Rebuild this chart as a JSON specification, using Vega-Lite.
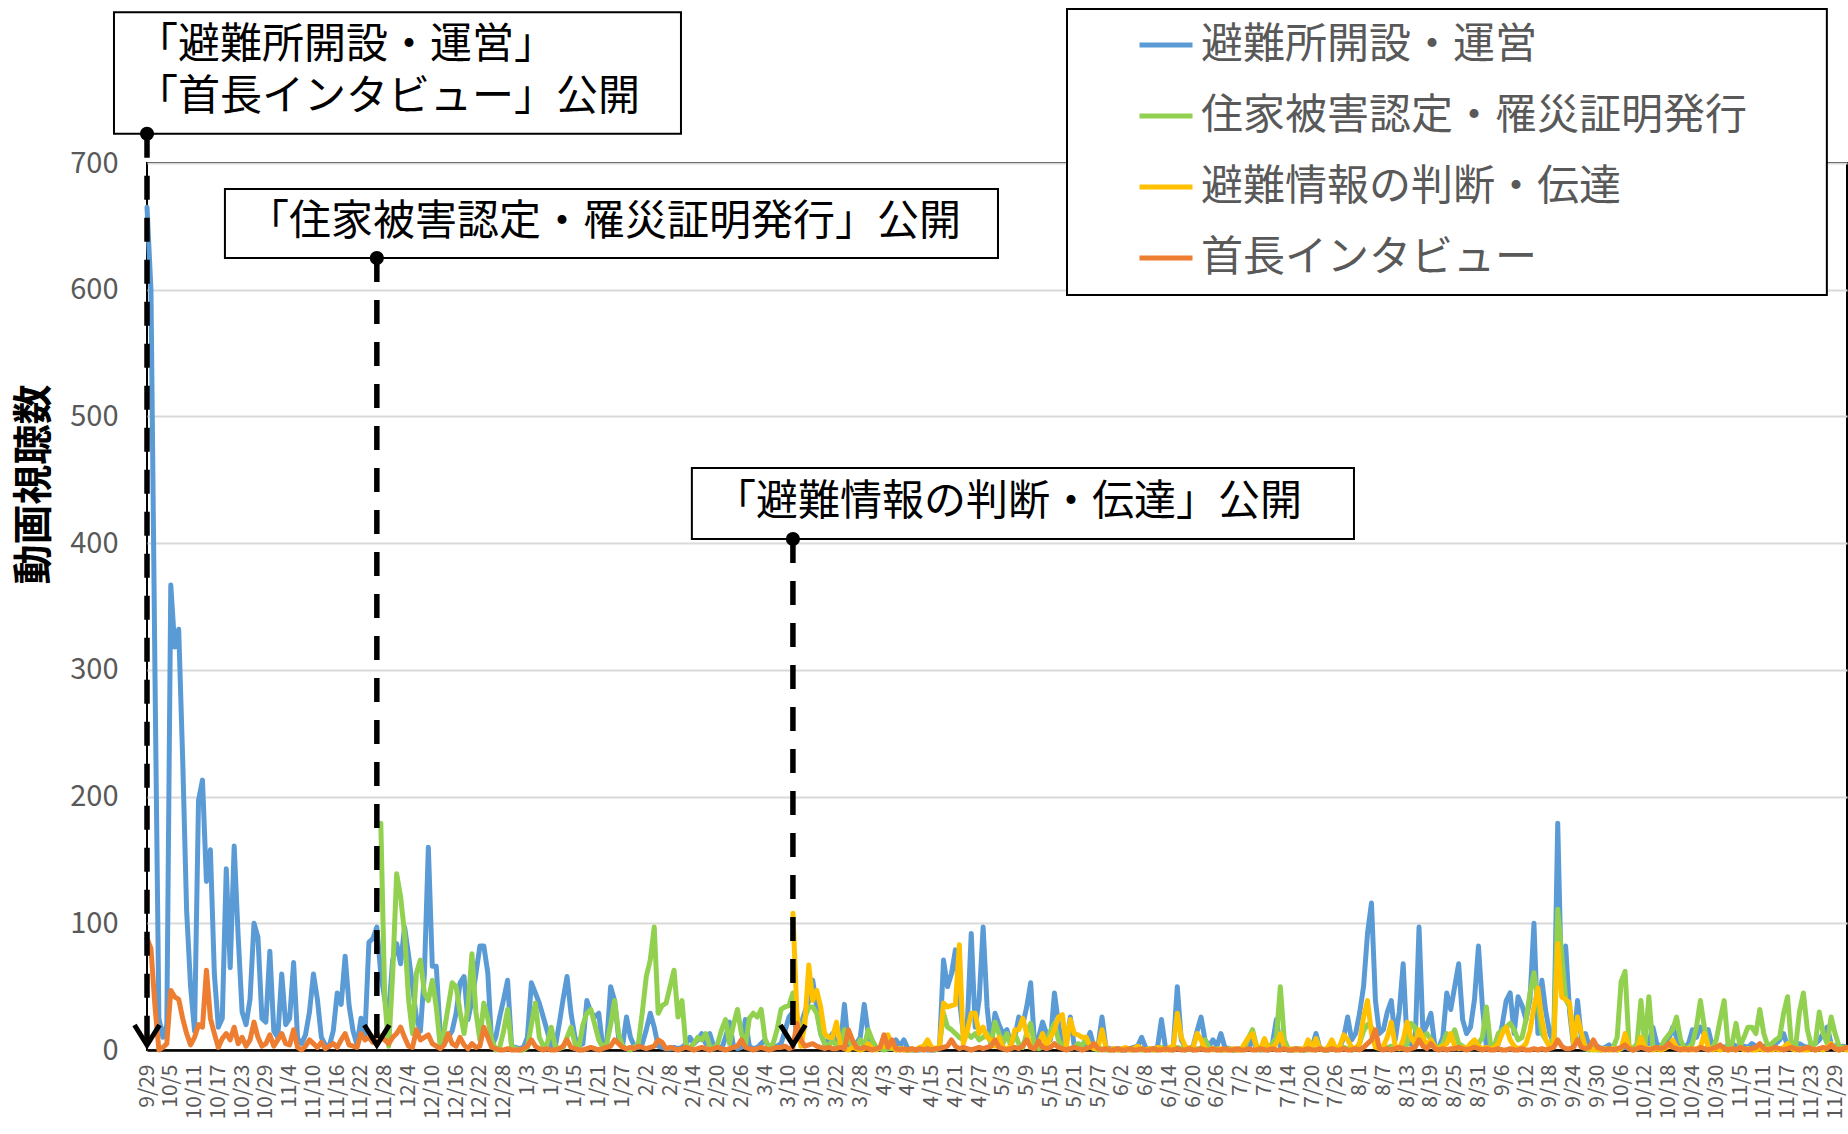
{
"$schema":"https://vega.github.io/schema/vega-lite/v6.json",
"width":1700,"height":887,
"autosize":{"type":"none"},
"padding":{"left":147,"top":163,"right":1,"bottom":84},
"background":"white",
"config":{"font":"Noto Sans CJK JP","view":{"stroke":"#000","strokeWidth":2},"axisX":{"labelOverlap":false,"labelFlush":false,"labelBound":false,"tickCount":100},"axis":{"labelOverlap":false}},
"datasets":{"views":[
{"d":"2022/9/29","a":665,"e":88},{"d":"2022/9/30","a":600,"e":80},
{"d":"2022/10/1","a":300,"e":35},{"d":"2022/10/2","a":25,"e":0},{"d":"2022/10/3","a":10,"e":2},{"d":"2022/10/4","a":20,"e":5},{"d":"2022/10/5","a":367,"e":47},{"d":"2022/10/6","a":318,"e":42},{"d":"2022/10/7","a":332,"e":40},{"d":"2022/10/8","a":230,"e":25},{"d":"2022/10/9","a":110,"e":13},{"d":"2022/10/10","a":50,"e":4},
{"d":"2022/10/11","a":15,"e":10},{"d":"2022/10/12","a":197,"e":20},{"d":"2022/10/13","a":213,"e":18},{"d":"2022/10/14","a":133,"e":63},{"d":"2022/10/15","a":158,"e":25},{"d":"2022/10/16","a":60,"e":13},{"d":"2022/10/17","a":18,"e":2},{"d":"2022/10/18","a":25,"e":9},{"d":"2022/10/19","a":143,"e":13},{"d":"2022/10/20","a":65,"e":8},
{"d":"2022/10/21","a":161,"e":18},{"d":"2022/10/22","a":90,"e":5},{"d":"2022/10/23","a":30,"e":10},{"d":"2022/10/24","a":20,"e":3},{"d":"2022/10/25","a":40,"e":8},{"d":"2022/10/26","a":100,"e":22},{"d":"2022/10/27","a":89,"e":10},{"d":"2022/10/28","a":25,"e":3},{"d":"2022/10/29","a":22,"e":5},{"d":"2022/10/30","a":78,"e":12},{"d":"2022/10/31","a":15,"e":3},
{"d":"2022/11/1","a":10,"e":8},{"d":"2022/11/2","a":60,"e":13},{"d":"2022/11/3","a":20,"e":5},{"d":"2022/11/4","a":25,"e":4},{"d":"2022/11/5","a":69,"e":16},{"d":"2022/11/6","a":9,"e":2},{"d":"2022/11/7","a":5,"e":0},{"d":"2022/11/8","a":12,"e":3},{"d":"2022/11/9","a":30,"e":8},{"d":"2022/11/10","a":60,"e":5},
{"d":"2022/11/11","a":40,"e":2},{"d":"2022/11/12","a":10,"e":6},{"d":"2022/11/13","a":4,"e":1},{"d":"2022/11/14","a":3,"e":3},{"d":"2022/11/15","a":15,"e":5},{"d":"2022/11/16","a":45,"e":2},{"d":"2022/11/17","a":36,"e":8},{"d":"2022/11/18","a":74,"e":13},{"d":"2022/11/19","a":35,"e":4},{"d":"2022/11/20","a":15,"e":3},
{"d":"2022/11/21","a":4,"e":2},{"d":"2022/11/22","a":25,"e":13},{"d":"2022/11/23","a":12,"e":8},{"d":"2022/11/24","a":85,"e":10},{"d":"2022/11/25","a":88,"e":6},{"d":"2022/11/26","a":97,"e":13},{"d":"2022/11/27","a":60,"b":179,"e":10},{"d":"2022/11/28","a":40,"b":40,"e":8},{"d":"2022/11/29","a":30,"b":3,"e":5},{"d":"2022/11/30","a":71,"b":60,"e":10},
{"d":"2022/12/1","a":84,"b":139,"e":13},{"d":"2022/12/2","a":68,"b":121,"e":18},{"d":"2022/12/3","a":97,"b":92,"e":10},{"d":"2022/12/4","a":75,"b":40,"e":3},{"d":"2022/12/5","a":50,"b":13,"e":2},{"d":"2022/12/6","a":25,"b":61,"e":16},{"d":"2022/12/7","a":15,"b":71,"e":8},{"d":"2022/12/8","a":60,"b":45,"e":10},{"d":"2022/12/9","a":160,"b":39,"e":12},{"d":"2022/12/10","a":66,"b":55,"e":5},
{"d":"2022/12/11","a":66,"b":34,"e":3},{"d":"2022/12/12","a":13,"b":3,"e":1},{"d":"2022/12/13","a":5,"b":15,"e":4},{"d":"2022/12/14","a":10,"b":34,"e":13},{"d":"2022/12/15","a":15,"b":53,"e":5},{"d":"2022/12/16","a":29,"b":50,"e":3},{"d":"2022/12/17","a":53,"b":30,"e":10},{"d":"2022/12/18","a":58,"b":13,"e":4},{"d":"2022/12/19","a":24,"b":34,"e":1},{"d":"2022/12/20","a":39,"b":76,"e":5},
{"d":"2022/12/21","a":60,"b":30,"e":2},{"d":"2022/12/22","a":82,"b":8,"e":3},{"d":"2022/12/23","a":82,"b":37,"e":18},{"d":"2022/12/24","a":61,"b":25,"e":10},{"d":"2022/12/25","a":3,"b":8,"e":2},{"d":"2022/12/26","a":10,"b":0,"e":1},{"d":"2022/12/27","a":26,"b":2,"e":0},{"d":"2022/12/28","a":40,"b":15,"e":0},{"d":"2022/12/29","a":55,"b":32,"e":1},{"d":"2022/12/30","a":3,"b":3,"e":0},{"d":"2022/12/31","a":2,"b":1,"e":0},
{"d":"2023/1/1","a":1,"b":0,"e":0},{"d":"2023/1/2","a":2,"b":0,"e":1},{"d":"2023/1/3","a":10,"b":2,"e":3},{"d":"2023/1/4","a":53,"b":20,"e":8},{"d":"2023/1/5","a":45,"b":37,"e":3},{"d":"2023/1/6","a":37,"b":10,"e":1},{"d":"2023/1/7","a":26,"b":3,"e":0},{"d":"2023/1/8","a":15,"b":5,"e":1},{"d":"2023/1/9","a":3,"b":18,"e":0},{"d":"2023/1/10","a":2,"b":3,"e":0},
{"d":"2023/1/11","a":20,"b":1,"e":1},{"d":"2023/1/12","a":40,"b":2,"e":3},{"d":"2023/1/13","a":58,"b":10,"e":8},{"d":"2023/1/14","a":29,"b":18,"e":2},{"d":"2023/1/15","a":10,"b":5,"e":1},{"d":"2023/1/16","a":3,"b":2,"e":0},{"d":"2023/1/17","a":5,"b":20,"e":0},{"d":"2023/1/18","a":39,"b":29,"e":1},{"d":"2023/1/19","a":30,"b":32,"e":2},{"d":"2023/1/20","a":26,"b":20,"e":1},
{"d":"2023/1/21","a":29,"b":8,"e":0},{"d":"2023/1/22","a":3,"b":2,"e":1},{"d":"2023/1/23","a":5,"b":5,"e":2},{"d":"2023/1/24","a":50,"b":20,"e":3},{"d":"2023/1/25","a":39,"b":39,"e":8},{"d":"2023/1/26","a":10,"b":13,"e":5},{"d":"2023/1/27","a":3,"b":3,"e":2},{"d":"2023/1/28","a":26,"b":1,"e":1},{"d":"2023/1/29","a":10,"b":0,"e":2},{"d":"2023/1/30","a":3,"b":2,"e":1},{"d":"2023/1/31","a":2,"b":5,"e":3},
{"d":"2023/2/1","a":5,"b":30,"e":2},{"d":"2023/2/2","a":16,"b":58,"e":1},{"d":"2023/2/3","a":29,"b":71,"e":2},{"d":"2023/2/4","a":18,"b":97,"e":3},{"d":"2023/2/5","a":3,"b":29,"e":8},{"d":"2023/2/6","a":2,"b":35,"e":6},{"d":"2023/2/7","a":1,"b":37,"e":1},{"d":"2023/2/8","a":1,"b":50,"e":2},{"d":"2023/2/9","a":2,"b":63,"e":1},{"d":"2023/2/10","a":1,"b":26,"e":0},
{"d":"2023/2/11","a":2,"b":39,"e":1},{"d":"2023/2/12","a":5,"b":3,"e":2},{"d":"2023/2/13","a":10,"b":2,"e":1},{"d":"2023/2/14","a":5,"b":5,"e":0},{"d":"2023/2/15","a":8,"b":10,"e":1},{"d":"2023/2/16","a":13,"b":8,"e":2},{"d":"2023/2/17","a":5,"b":13,"e":1},{"d":"2023/2/18","a":13,"b":3,"e":0},{"d":"2023/2/19","a":3,"b":1,"e":1},{"d":"2023/2/20","a":2,"b":5,"e":2},
{"d":"2023/2/21","a":1,"b":16,"e":1},{"d":"2023/2/22","a":10,"b":24,"e":0},{"d":"2023/2/23","a":22,"b":5,"e":1},{"d":"2023/2/24","a":3,"b":20,"e":2},{"d":"2023/2/25","a":1,"b":32,"e":3},{"d":"2023/2/26","a":2,"b":13,"e":8},{"d":"2023/2/27","a":24,"b":3,"e":2},{"d":"2023/2/28","a":3,"b":25,"e":1},
{"d":"2023/3/1","a":1,"b":29,"e":0},{"d":"2023/3/2","a":2,"b":26,"e":1},{"d":"2023/3/3","a":5,"b":32,"e":2},{"d":"2023/3/4","a":8,"b":8,"e":1},{"d":"2023/3/5","a":1,"b":2,"e":0},{"d":"2023/3/6","a":2,"b":5,"e":1},{"d":"2023/3/7","a":3,"b":16,"e":2},{"d":"2023/3/8","a":5,"b":32,"e":2},{"d":"2023/3/9","a":15,"b":34,"e":3},{"d":"2023/3/10","a":26,"b":35,"e":1},
{"d":"2023/3/11","a":30,"b":45,"c":108,"e":2},{"d":"2023/3/12","a":13,"b":13,"c":30,"e":21},{"d":"2023/3/13","a":20,"b":10,"c":3,"e":8},{"d":"2023/3/14","a":30,"b":25,"c":20,"e":3},{"d":"2023/3/15","a":39,"b":34,"c":67,"e":4},{"d":"2023/3/16","a":55,"b":34,"c":39,"e":5},{"d":"2023/3/17","a":34,"b":29,"c":47,"e":3},{"d":"2023/3/18","a":13,"b":13,"c":34,"e":2},{"d":"2023/3/19","a":5,"b":5,"c":13,"e":1},{"d":"2023/3/20","a":8,"b":3,"c":10,"e":2},
{"d":"2023/3/21","a":13,"b":8,"c":10,"e":1},{"d":"2023/3/22","a":5,"b":3,"c":22,"e":1},{"d":"2023/3/23","a":3,"b":2,"c":3,"e":2},{"d":"2023/3/24","a":36,"b":16,"c":1,"e":1},{"d":"2023/3/25","a":3,"b":8,"c":0,"e":16},{"d":"2023/3/26","a":2,"b":3,"c":2,"e":8},{"d":"2023/3/27","a":5,"b":2,"c":1,"e":2},{"d":"2023/3/28","a":10,"b":8,"c":0,"e":1},{"d":"2023/3/29","a":36,"b":3,"c":1,"e":2},{"d":"2023/3/30","a":13,"b":16,"c":5,"e":1},{"d":"2023/3/31","a":2,"b":8,"c":1,"e":0},
{"d":"2023/4/1","a":1,"b":2,"c":0,"e":1},{"d":"2023/4/2","a":1,"b":1,"c":2,"e":2},{"d":"2023/4/3","a":2,"b":0,"c":3,"e":12},{"d":"2023/4/4","a":1,"b":1,"c":12,"e":2},{"d":"2023/4/5","a":3,"b":2,"c":2,"e":8},{"d":"2023/4/6","a":8,"b":0,"c":0,"e":1},{"d":"2023/4/7","a":3,"b":1,"c":1,"e":0},{"d":"2023/4/8","a":8,"b":0,"c":0,"e":1},{"d":"2023/4/9","a":1,"b":0,"c":0,"e":0},{"d":"2023/4/10","a":0,"b":0,"c":1,"e":1},
{"d":"2023/4/11","a":0,"b":0,"c":0,"e":0},{"d":"2023/4/12","a":0,"b":1,"c":2,"e":1},{"d":"2023/4/13","a":1,"b":0,"c":3,"e":0},{"d":"2023/4/14","a":0,"b":2,"c":8,"e":1},{"d":"2023/4/15","a":0,"b":1,"c":2,"e":0},{"d":"2023/4/16","a":0,"b":0,"c":1,"e":1},{"d":"2023/4/17","a":2,"b":3,"c":3,"e":1},{"d":"2023/4/18","a":71,"b":29,"c":37,"e":2},{"d":"2023/4/19","a":50,"b":18,"c":34,"e":3},{"d":"2023/4/20","a":60,"b":16,"c":35,"e":8},
{"d":"2023/4/21","a":79,"b":13,"c":36,"e":3},{"d":"2023/4/22","a":40,"b":10,"c":83,"e":1},{"d":"2023/4/23","a":13,"b":8,"c":5,"e":2},{"d":"2023/4/24","a":20,"b":13,"c":15,"e":1},{"d":"2023/4/25","a":92,"b":10,"c":29,"e":0},{"d":"2023/4/26","a":18,"b":13,"c":29,"e":1},{"d":"2023/4/27","a":40,"b":8,"c":13,"e":2},{"d":"2023/4/28","a":97,"b":10,"c":18,"e":1},{"d":"2023/4/29","a":34,"b":13,"c":10,"e":2},{"d":"2023/4/30","a":3,"b":5,"c":8,"e":3},
{"d":"2023/5/1","a":29,"b":22,"c":3,"e":8},{"d":"2023/5/2","a":20,"b":13,"c":10,"e":2},{"d":"2023/5/3","a":13,"b":5,"c":2,"e":1},{"d":"2023/5/4","a":16,"b":13,"c":1,"e":0},{"d":"2023/5/5","a":5,"b":3,"c":3,"e":1},{"d":"2023/5/6","a":10,"b":13,"c":16,"e":2},{"d":"2023/5/7","a":26,"b":5,"c":16,"e":1},{"d":"2023/5/8","a":20,"b":2,"c":25,"e":3},{"d":"2023/5/9","a":34,"b":13,"c":13,"e":8},{"d":"2023/5/10","a":53,"b":21,"c":2,"e":2},
{"d":"2023/5/11","a":3,"b":3,"c":1,"e":1},{"d":"2023/5/12","a":10,"b":1,"c":5,"e":7},{"d":"2023/5/13","a":22,"b":2,"c":13,"e":2},{"d":"2023/5/14","a":13,"b":5,"c":3,"e":1},{"d":"2023/5/15","a":8,"b":15,"c":10,"e":2},{"d":"2023/5/16","a":45,"b":21,"c":16,"e":5},{"d":"2023/5/17","a":21,"b":8,"c":26,"e":2},{"d":"2023/5/18","a":3,"b":3,"c":28,"e":1},{"d":"2023/5/19","a":5,"b":2,"c":3,"e":0},{"d":"2023/5/20","a":26,"b":1,"c":24,"e":1},
{"d":"2023/5/21","a":3,"b":2,"c":13,"e":2},{"d":"2023/5/22","a":1,"b":5,"c":12,"e":1},{"d":"2023/5/23","a":2,"b":3,"c":10,"e":0},{"d":"2023/5/24","a":5,"b":10,"c":10,"e":1},{"d":"2023/5/25","a":14,"b":2,"c":3,"e":2},{"d":"2023/5/26","a":2,"b":1,"c":1,"e":5},{"d":"2023/5/27","a":3,"b":0,"c":2,"e":1},{"d":"2023/5/28","a":26,"b":1,"c":16,"e":0},{"d":"2023/5/29","a":2,"b":0,"c":2,"e":1},{"d":"2023/5/30","a":1,"b":0,"c":0,"e":0},{"d":"2023/5/31","a":0,"b":1,"c":1,"e":0},
{"d":"2023/6/1","a":1,"b":0,"c":0,"e":1},{"d":"2023/6/2","a":0,"b":0,"c":1,"e":0},{"d":"2023/6/3","a":0,"b":1,"c":2,"e":0},{"d":"2023/6/4","a":1,"b":0,"c":0,"e":1},{"d":"2023/6/5","a":2,"b":0,"c":1,"e":0},{"d":"2023/6/6","a":3,"b":1,"c":3,"e":0},{"d":"2023/6/7","a":10,"b":0,"c":1,"e":1},{"d":"2023/6/8","a":2,"b":0,"c":0,"e":0},{"d":"2023/6/9","a":0,"b":1,"c":1,"e":0},{"d":"2023/6/10","a":1,"b":0,"c":0,"e":1},
{"d":"2023/6/11","a":2,"b":0,"c":2,"e":0},{"d":"2023/6/12","a":24,"b":2,"c":1,"e":0},{"d":"2023/6/13","a":2,"b":0,"c":0,"e":1},{"d":"2023/6/14","a":1,"b":1,"c":2,"e":0},{"d":"2023/6/15","a":3,"b":0,"c":3,"e":0},{"d":"2023/6/16","a":50,"b":2,"c":29,"e":1},{"d":"2023/6/17","a":8,"b":1,"c":10,"e":0},{"d":"2023/6/18","a":2,"b":0,"c":3,"e":0},{"d":"2023/6/19","a":1,"b":1,"c":1,"e":1},{"d":"2023/6/20","a":3,"b":0,"c":2,"e":0},
{"d":"2023/6/21","a":15,"b":1,"c":13,"e":0},{"d":"2023/6/22","a":26,"b":1,"c":8,"e":1},{"d":"2023/6/23","a":8,"b":8,"c":1,"e":0},{"d":"2023/6/24","a":3,"b":2,"c":0,"e":0},{"d":"2023/6/25","a":8,"b":0,"c":1,"e":1},{"d":"2023/6/26","a":3,"b":1,"c":0,"e":0},{"d":"2023/6/27","a":13,"b":0,"c":1,"e":0},{"d":"2023/6/28","a":2,"b":0,"c":0,"e":1},{"d":"2023/6/29","a":1,"b":1,"c":0,"e":0},{"d":"2023/6/30","a":0,"b":0,"c":1,"e":0},
{"d":"2023/7/1","a":0,"b":0,"c":0,"e":1},{"d":"2023/7/2","a":1,"b":1,"c":0,"e":0},{"d":"2023/7/3","a":2,"b":2,"c":5,"e":0},{"d":"2023/7/4","a":2,"b":10,"c":10,"e":1},{"d":"2023/7/5","a":8,"b":16,"c":13,"e":0},{"d":"2023/7/6","a":1,"b":3,"c":2,"e":0},{"d":"2023/7/7","a":0,"b":0,"c":1,"e":1},{"d":"2023/7/8","a":1,"b":1,"c":9,"e":0},{"d":"2023/7/9","a":0,"b":2,"c":1,"e":0},{"d":"2023/7/10","a":5,"b":5,"c":2,"e":1},
{"d":"2023/7/11","a":24,"b":10,"c":5,"e":0},{"d":"2023/7/12","a":3,"b":50,"c":13,"e":0},{"d":"2023/7/13","a":1,"b":8,"c":2,"e":1},{"d":"2023/7/14","a":0,"b":1,"c":0,"e":0},{"d":"2023/7/15","a":0,"b":0,"c":1,"e":0},{"d":"2023/7/16","a":1,"b":0,"c":0,"e":1},{"d":"2023/7/17","a":0,"b":1,"c":1,"e":0},{"d":"2023/7/18","a":0,"b":0,"c":0,"e":0},{"d":"2023/7/19","a":1,"b":0,"c":8,"e":1},{"d":"2023/7/20","a":2,"b":1,"c":1,"e":0},
{"d":"2023/7/21","a":13,"b":0,"c":9,"e":0},{"d":"2023/7/22","a":1,"b":2,"c":1,"e":1},{"d":"2023/7/23","a":0,"b":0,"c":0,"e":0},{"d":"2023/7/24","a":0,"b":0,"c":2,"e":0},{"d":"2023/7/25","a":2,"b":1,"c":8,"e":1},{"d":"2023/7/26","a":1,"b":0,"c":1,"e":0},{"d":"2023/7/27","a":2,"b":1,"c":3,"e":0},{"d":"2023/7/28","a":10,"b":2,"c":12,"e":1},{"d":"2023/7/29","a":26,"b":1,"c":8,"e":0},{"d":"2023/7/30","a":8,"b":0,"c":2,"e":0},{"d":"2023/7/31","a":13,"b":1,"c":1,"e":1},
{"d":"2023/8/1","a":29,"b":5,"c":5,"e":0},{"d":"2023/8/2","a":50,"b":15,"c":26,"e":2},{"d":"2023/8/3","a":92,"b":20,"c":39,"e":5},{"d":"2023/8/4","a":116,"b":18,"c":13,"e":8},{"d":"2023/8/5","a":39,"b":5,"c":2,"e":16},{"d":"2023/8/6","a":13,"b":2,"c":1,"e":1},{"d":"2023/8/7","a":16,"b":1,"c":3,"e":0},{"d":"2023/8/8","a":30,"b":2,"c":10,"e":1},{"d":"2023/8/9","a":39,"b":3,"c":22,"e":0},{"d":"2023/8/10","a":8,"b":1,"c":3,"e":1},
{"d":"2023/8/11","a":30,"b":2,"c":1,"e":2},{"d":"2023/8/12","a":68,"b":1,"c":8,"e":1},{"d":"2023/8/13","a":5,"b":5,"c":22,"e":0},{"d":"2023/8/14","a":5,"b":21,"c":10,"e":1},{"d":"2023/8/15","a":3,"b":18,"c":5,"e":2},{"d":"2023/8/16","a":97,"b":8,"c":16,"e":8},{"d":"2023/8/17","a":13,"b":10,"c":10,"e":3},{"d":"2023/8/18","a":20,"b":13,"c":3,"e":1},{"d":"2023/8/19","a":29,"b":8,"c":8,"e":5},{"d":"2023/8/20","a":3,"b":3,"c":2,"e":1},
{"d":"2023/8/21","a":2,"b":2,"c":1,"e":0},{"d":"2023/8/22","a":10,"b":5,"c":3,"e":1},{"d":"2023/8/23","a":45,"b":13,"c":5,"e":0},{"d":"2023/8/24","a":32,"b":8,"c":13,"e":1},{"d":"2023/8/25","a":50,"b":16,"c":3,"e":1},{"d":"2023/8/26","a":68,"b":5,"c":1,"e":2},{"d":"2023/8/27","a":24,"b":3,"c":2,"e":1},{"d":"2023/8/28","a":13,"b":1,"c":1,"e":0},{"d":"2023/8/29","a":18,"b":2,"c":5,"e":1},{"d":"2023/8/30","a":40,"b":3,"c":8,"e":2},{"d":"2023/8/31","a":82,"b":5,"c":3,"e":1},
{"d":"2023/9/1","a":34,"b":10,"c":1,"e":0},{"d":"2023/9/2","a":3,"b":34,"c":2,"e":1},{"d":"2023/9/3","a":1,"b":5,"c":1,"e":0},{"d":"2023/9/4","a":2,"b":3,"c":2,"e":0},{"d":"2023/9/5","a":5,"b":13,"c":5,"e":1},{"d":"2023/9/6","a":20,"b":16,"c":13,"e":0},{"d":"2023/9/7","a":39,"b":18,"c":18,"e":0},{"d":"2023/9/8","a":45,"b":21,"c":8,"e":1},{"d":"2023/9/9","a":13,"b":16,"c":3,"e":0},{"d":"2023/9/10","a":42,"b":8,"c":1,"e":0},
{"d":"2023/9/11","a":35,"b":10,"c":2,"e":1},{"d":"2023/9/12","a":24,"b":24,"c":5,"e":0},{"d":"2023/9/13","a":40,"b":45,"c":15,"e":0},{"d":"2023/9/14","a":100,"b":61,"c":34,"e":1},{"d":"2023/9/15","a":13,"b":39,"c":49,"e":0},{"d":"2023/9/16","a":55,"b":13,"c":24,"e":1},{"d":"2023/9/17","a":30,"b":8,"c":8,"e":0},{"d":"2023/9/18","a":13,"b":3,"c":2,"e":1},{"d":"2023/9/19","a":5,"b":10,"c":5,"e":2},{"d":"2023/9/20","a":179,"b":111,"c":84,"e":8},
{"d":"2023/9/21","a":45,"b":76,"c":42,"e":3},{"d":"2023/9/22","a":82,"b":40,"c":40,"e":1},{"d":"2023/9/23","a":30,"b":34,"c":37,"e":1},{"d":"2023/9/24","a":3,"b":13,"c":5,"e":2},{"d":"2023/9/25","a":39,"b":8,"c":26,"e":8},{"d":"2023/9/26","a":8,"b":3,"c":13,"e":2},{"d":"2023/9/27","a":13,"b":1,"c":2,"e":1},{"d":"2023/9/28","a":2,"b":0,"c":1,"e":2},{"d":"2023/9/29","a":1,"b":1,"c":0,"e":8},{"d":"2023/9/30","a":3,"b":0,"c":1,"e":2},
{"d":"2023/10/1","a":1,"b":0,"c":0,"e":1},{"d":"2023/10/2","a":2,"b":1,"c":1,"e":0},{"d":"2023/10/3","a":4,"b":0,"c":0,"e":1},{"d":"2023/10/4","a":1,"b":2,"c":1,"e":0},{"d":"2023/10/5","a":0,"b":10,"c":0,"e":1},{"d":"2023/10/6","a":1,"b":54,"c":1,"e":2},{"d":"2023/10/7","a":2,"b":62,"c":13,"e":4},{"d":"2023/10/8","a":1,"b":3,"c":2,"e":1},{"d":"2023/10/9","a":0,"b":1,"c":0,"e":0},{"d":"2023/10/10","a":1,"b":5,"c":1,"e":1},
{"d":"2023/10/11","a":2,"b":39,"c":10,"e":2},{"d":"2023/10/12","a":3,"b":3,"c":2,"e":1},{"d":"2023/10/13","a":5,"b":42,"c":1,"e":0},{"d":"2023/10/14","a":18,"b":3,"c":0,"e":1},{"d":"2023/10/15","a":5,"b":1,"c":1,"e":2},{"d":"2023/10/16","a":2,"b":2,"c":0,"e":1},{"d":"2023/10/17","a":3,"b":8,"c":1,"e":2},{"d":"2023/10/18","a":8,"b":12,"c":3,"e":5},{"d":"2023/10/19","a":18,"b":16,"c":8,"e":2},{"d":"2023/10/20","a":10,"b":26,"c":2,"e":1},
{"d":"2023/10/21","a":3,"b":8,"c":1,"e":0},{"d":"2023/10/22","a":2,"b":1,"c":0,"e":1},{"d":"2023/10/23","a":5,"b":2,"c":1,"e":0},{"d":"2023/10/24","a":16,"b":5,"c":0,"e":1},{"d":"2023/10/25","a":10,"b":18,"c":1,"e":0},{"d":"2023/10/26","a":18,"b":39,"c":2,"e":2},{"d":"2023/10/27","a":12,"b":18,"c":13,"e":1},{"d":"2023/10/28","a":16,"b":3,"c":2,"e":0},{"d":"2023/10/29","a":3,"b":1,"c":0,"e":1},{"d":"2023/10/30","a":2,"b":8,"c":1,"e":2},{"d":"2023/10/31","a":3,"b":24,"c":0,"e":4},
{"d":"2023/11/1","a":2,"b":39,"c":1,"e":1},{"d":"2023/11/2","a":3,"b":3,"c":0,"e":0},{"d":"2023/11/3","a":5,"b":5,"c":1,"e":1},{"d":"2023/11/4","a":3,"b":21,"c":0,"e":0},{"d":"2023/11/5","a":2,"b":3,"c":2,"e":2},{"d":"2023/11/6","a":3,"b":10,"c":0,"e":1},{"d":"2023/11/7","a":2,"b":18,"c":1,"e":0},{"d":"2023/11/8","a":5,"b":18,"c":0,"e":1},{"d":"2023/11/9","a":3,"b":13,"c":0,"e":2},{"d":"2023/11/10","a":2,"b":32,"c":1,"e":5},
{"d":"2023/11/11","a":3,"b":13,"c":0,"e":1},{"d":"2023/11/12","a":2,"b":3,"c":1,"e":0},{"d":"2023/11/13","a":3,"b":5,"c":0,"e":1},{"d":"2023/11/14","a":5,"b":8,"c":1,"e":2},{"d":"2023/11/15","a":8,"b":10,"c":0,"e":1},{"d":"2023/11/16","a":13,"b":29,"c":2,"e":0},{"d":"2023/11/17","a":3,"b":42,"c":5,"e":1},{"d":"2023/11/18","a":2,"b":3,"c":1,"e":2},{"d":"2023/11/19","a":3,"b":2,"c":0,"e":1},{"d":"2023/11/20","a":5,"b":30,"c":1,"e":0},
{"d":"2023/11/21","a":3,"b":45,"c":0,"e":1},{"d":"2023/11/22","a":2,"b":16,"c":0,"e":2},{"d":"2023/11/23","a":3,"b":3,"c":1,"e":1},{"d":"2023/11/24","a":5,"b":5,"c":0,"e":0},{"d":"2023/11/25","a":8,"b":30,"c":1,"e":1},{"d":"2023/11/26","a":13,"b":13,"c":0,"e":2},{"d":"2023/11/27","a":18,"b":5,"c":2,"e":1},{"d":"2023/11/28","a":5,"b":26,"c":5,"e":4},{"d":"2023/11/29","a":3,"b":13,"c":1,"e":1},{"d":"2023/11/30","a":2,"b":3,"c":0,"e":0},
{"d":"2023/12/1","a":3,"b":2,"c":1,"e":1},{"d":"2023/12/2","a":2,"b":2,"c":0,"e":2}
]},
"layer":[
{
"data":{"name":"views"},
"transform":[
{"fold":["a","b","c","e"],"as":["k","v"]},
{"lookup":"k","from":{"data":{"values":[{"k":"a","s":"避難所開設・運営"},{"k":"b","s":"住家被害認定・罹災証明発行"},{"k":"c","s":"避難情報の判断・伝達"},{"k":"e","s":"首長インタビュー"}]},"key":"k","fields":["s"]}}
],
"encoding":{
"x":{"field":"d","type":"temporal","title":null,
 "scale":{"domain":[{"year":2022,"month":9,"date":29},{"year":2023,"month":12,"date":2}],"nice":false},
 "axis":{"grid":false,"ticks":false,"tickSize":0,"tickCount":100,"domain":true,"domainColor":"#000","domainWidth":2.5,
  "format":"%-m/%-d","labelAngle":270,"labelFontSize":21,"labelColor":"#595959","labelPadding":14,"labelOverlap":false,"labelFlush":false,"labelBound":false,"labelSeparation":0,
  "values":[{"year":2022,"month":9,"date":29},{"year":2022,"month":10,"date":5},{"year":2022,"month":10,"date":11},{"year":2022,"month":10,"date":17},{"year":2022,"month":10,"date":23},{"year":2022,"month":10,"date":29},{"year":2022,"month":11,"date":4},{"year":2022,"month":11,"date":10},{"year":2022,"month":11,"date":16},{"year":2022,"month":11,"date":22},{"year":2022,"month":11,"date":28},{"year":2022,"month":12,"date":4},{"year":2022,"month":12,"date":10},{"year":2022,"month":12,"date":16},{"year":2022,"month":12,"date":22},{"year":2022,"month":12,"date":28},
  {"year":2023,"month":1,"date":3},{"year":2023,"month":1,"date":9},{"year":2023,"month":1,"date":15},{"year":2023,"month":1,"date":21},{"year":2023,"month":1,"date":27},{"year":2023,"month":2,"date":2},{"year":2023,"month":2,"date":8},{"year":2023,"month":2,"date":14},{"year":2023,"month":2,"date":20},{"year":2023,"month":2,"date":26},{"year":2023,"month":3,"date":4},{"year":2023,"month":3,"date":10},{"year":2023,"month":3,"date":16},{"year":2023,"month":3,"date":22},{"year":2023,"month":3,"date":28},{"year":2023,"month":4,"date":3},{"year":2023,"month":4,"date":9},{"year":2023,"month":4,"date":15},{"year":2023,"month":4,"date":21},{"year":2023,"month":4,"date":27},{"year":2023,"month":5,"date":3},{"year":2023,"month":5,"date":9},{"year":2023,"month":5,"date":15},{"year":2023,"month":5,"date":21},{"year":2023,"month":5,"date":27},{"year":2023,"month":6,"date":2},{"year":2023,"month":6,"date":8},{"year":2023,"month":6,"date":14},{"year":2023,"month":6,"date":20},{"year":2023,"month":6,"date":26},{"year":2023,"month":7,"date":2},{"year":2023,"month":7,"date":8},{"year":2023,"month":7,"date":14},{"year":2023,"month":7,"date":20},{"year":2023,"month":7,"date":26},{"year":2023,"month":8,"date":1},{"year":2023,"month":8,"date":7},{"year":2023,"month":8,"date":13},{"year":2023,"month":8,"date":19},{"year":2023,"month":8,"date":25},{"year":2023,"month":8,"date":31},{"year":2023,"month":9,"date":6},{"year":2023,"month":9,"date":12},{"year":2023,"month":9,"date":18},{"year":2023,"month":9,"date":24},{"year":2023,"month":9,"date":30},{"year":2023,"month":10,"date":6},{"year":2023,"month":10,"date":12},{"year":2023,"month":10,"date":18},{"year":2023,"month":10,"date":24},{"year":2023,"month":10,"date":30},{"year":2023,"month":11,"date":5},{"year":2023,"month":11,"date":11},{"year":2023,"month":11,"date":17},{"year":2023,"month":11,"date":23},{"year":2023,"month":11,"date":29}]}},
"y":{"field":"v","type":"quantitative","title":"動画視聴数",
 "scale":{"domain":[0,700],"nice":false},
 "axis":{"values":[0,100,200,300,400,500,600,700],"grid":true,"gridColor":"#D9D9D9","gridWidth":2,"domain":false,"ticks":false,"tickSize":0,
  "labelFontSize":29,"labelColor":"#595959","labelPadding":29,
  "titleFontSize":40,"titleFontWeight":"bold","titleColor":"#000","titleAngle":270,"titleAlign":"center","titleBaseline":"middle","titleX":-113,"titleY":321}},
"color":{"field":"s","type":"nominal",
 "scale":{"domain":["避難所開設・運営","住家被害認定・罹災証明発行","避難情報の判断・伝達","首長インタビュー"],"range":["#5B9BD5","#92D050","#FFC000","#ED7D31"]},
 "legend":{"orient":"none","legendX":990,"legendY":-147,"title":null,"direction":"vertical","symbolType":"stroke","symbolSize":2809,"symbolStrokeWidth":5,
  "labelFontSize":42,"labelColor":"#595959","labelOffset":6,"rowPadding":21,"padding":0,"labelLimit":1000}}
},
"layer":[
{"transform":[{"filter":{"field":"k","equal":"a"}}],"mark":{"type":"line","strokeWidth":5,"strokeJoin":"round","strokeCap":"round"}},
{"transform":[{"filter":{"field":"k","equal":"b"}}],"mark":{"type":"line","strokeWidth":5,"strokeJoin":"round","strokeCap":"round"}},
{"transform":[{"filter":{"field":"k","equal":"c"}}],"mark":{"type":"line","strokeWidth":5,"strokeJoin":"round","strokeCap":"round"}},
{"transform":[{"filter":{"field":"k","equal":"e"}}],"mark":{"type":"line","strokeWidth":5,"strokeJoin":"round","strokeCap":"round"}}
]
},
{
"data":{"values":[{}]},
"layer":[
{"mark":{"type":"rect","fill":"#fff","stroke":"#000","strokeWidth":2},"encoding":{"x":{"datum":{"year":2022,"month":9,"date":20,"hours":16},"type":"temporal"},"x2":{"datum":{"year":2023,"month":2,"date":10,"hours":18}},"y":{"datum":819},"y2":{"datum":723}}},
{"mark":{"type":"rect","fill":"#fff","stroke":"#000","strokeWidth":2},"encoding":{"x":{"datum":{"year":2022,"month":10,"date":18,"hours":16},"type":"temporal"},"x2":{"datum":{"year":2023,"month":5,"date":1,"hours":18}},"y":{"datum":679.5},"y2":{"datum":625}}},
{"mark":{"type":"rect","fill":"#fff","stroke":"#000","strokeWidth":2},"encoding":{"x":{"datum":{"year":2023,"month":2,"date":13,"hours":12},"type":"temporal"},"x2":{"datum":{"year":2023,"month":7,"date":30,"hours":14}},"y":{"datum":459.3},"y2":{"datum":403.3}}},
{"mark":{"type":"rect","fill":"#fff","stroke":"#000","strokeWidth":2},"encoding":{"x":{"datum":{"year":2023,"month":5,"date":19,"hours":4},"type":"temporal"},"x2":{"datum":{"year":2023,"month":11,"date":26,"hours":22}},"y":{"datum":821.6},"y2":{"datum":595.8}}},
{"mark":{"type":"text","align":"left","baseline":"middle","fontSize":42,"color":"#000","text":"「避難所開設・運営」"},"encoding":{"x":{"datum":{"year":2022,"month":9,"date":26,"hours":5},"type":"temporal"},"y":{"datum":793.5}}},
{"mark":{"type":"text","align":"left","baseline":"middle","fontSize":42,"color":"#000","text":"「首長インタビュー」公開"},"encoding":{"x":{"datum":{"year":2022,"month":9,"date":26,"hours":5},"type":"temporal"},"y":{"datum":752}}},
{"mark":{"type":"text","align":"left","baseline":"middle","fontSize":42,"color":"#000","text":"「住家被害認定・罹災証明発行」公開"},"encoding":{"x":{"datum":{"year":2022,"month":10,"date":24,"hours":6},"type":"temporal"},"y":{"datum":653.8}}},
{"mark":{"type":"text","align":"left","baseline":"middle","fontSize":42,"color":"#000","text":"「避難情報の判断・伝達」公開"},"encoding":{"x":{"datum":{"year":2023,"month":2,"date":19,"hours":2},"type":"temporal"},"y":{"datum":432.5}}}
]
},
{
"data":{"values":[{"d":"2022/9/29"}]},
"encoding":{"x":{"field":"d","type":"temporal"}},
"layer":[
{"mark":{"type":"rule","color":"#000","strokeWidth":5.5,"strokeDash":[24,18]},"encoding":{"y":{"datum":723},"y2":{"datum":4}}},
{"mark":{"type":"point","shape":"M-1,-2L0,-0.4L1,-2","filled":false,"color":"#000","strokeWidth":5,"size":625,"opacity":1},"encoding":{"y":{"datum":0}}},
{"mark":{"type":"point","shape":"circle","filled":true,"color":"#000","size":200,"opacity":1},"encoding":{"y":{"datum":723}}}
]
},
{
"data":{"values":[{"d":"2022/11/26"}]},
"encoding":{"x":{"field":"d","type":"temporal"}},
"layer":[
{"mark":{"type":"rule","color":"#000","strokeWidth":5.5,"strokeDash":[24,18]},"encoding":{"y":{"datum":625},"y2":{"datum":4}}},
{"mark":{"type":"point","shape":"M-1,-2L0,-0.4L1,-2","filled":false,"color":"#000","strokeWidth":5,"size":625,"opacity":1},"encoding":{"y":{"datum":0}}},
{"mark":{"type":"point","shape":"circle","filled":true,"color":"#000","size":200,"opacity":1},"encoding":{"y":{"datum":625}}}
]
},
{
"data":{"values":[{"d":"2023/3/11"}]},
"encoding":{"x":{"field":"d","type":"temporal"}},
"layer":[
{"mark":{"type":"rule","color":"#000","strokeWidth":5.5,"strokeDash":[24,18]},"encoding":{"y":{"datum":403.3},"y2":{"datum":4}}},
{"mark":{"type":"point","shape":"M-1,-2L0,-0.4L1,-2","filled":false,"color":"#000","strokeWidth":5,"size":625,"opacity":1},"encoding":{"y":{"datum":0}}},
{"mark":{"type":"point","shape":"circle","filled":true,"color":"#000","size":200,"opacity":1},"encoding":{"y":{"datum":403.3}}}
]
}
]
}
